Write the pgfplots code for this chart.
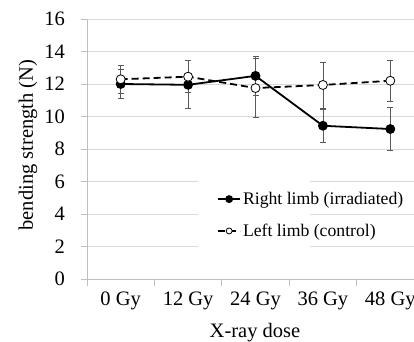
\documentclass[border=0pt]{standalone}
\usepackage{fontspec}
\setmainfont{Liberation Serif}
\usepackage{pgfplots}
\pgfplotsset{compat=1.18}
\definecolor{gridc}{HTML}{D9D9D9}
\definecolor{axc}{HTML}{BFBFBF}
\definecolor{errc}{HTML}{595959}
\begin{document}
\begin{tikzpicture}
\useasboundingbox (0,0) rectangle (414pt,341pt);
\clip (0,0) rectangle (414pt,341pt);
\begin{axis}[
  at={(87pt,62pt)}, anchor=south west,
  scale only axis, width=337pt, height=260pt,
  xmin=-0.5, xmax=4.5, ymin=0, ymax=16,
  xtick={-0.5,0.5,1.5,2.5,3.5,4.5},
  xticklabels={0 Gy,12 Gy,24 Gy,36 Gy,48 Gy,},
  x tick label as interval,
  ytick={0,2,...,16},
  axis x line*=bottom, axis y line*=left,
  axis line style={axc, line width=0.8pt},
  ymajorgrids, grid style={gridc, line width=0.8pt},
  tick align=outside, major tick length=6.5pt,
  tick style={axc, line width=0.8pt},
  tick label style={font=\rmfamily\fontsize{20.5}{24}\selectfont},
  yticklabel style={xshift=-12pt},
  xticklabel style={yshift=-3pt},
  every axis x label/.style={at={(axis description cs:0.4985,-0.208)}, anchor=center, font=\rmfamily\fontsize{20.5}{24}\selectfont},
  every axis y label/.style={at={(axis description cs:-0.175,0.515)}, rotate=90, anchor=center, font=\rmfamily\fontsize{20.5}{24}\selectfont},
  xlabel={X-ray dose}, ylabel={bending strength (N)},
  /pgf/number format/assume math mode=true,
  legend style={draw=none, fill=none, font=\rmfamily\fontsize{17.7}{20}\selectfont,
    at={(0.377,0.35)}, anchor=north west, cells={anchor=west}, row sep=14pt},
  legend image post style={mark size=3pt},
  legend image code/.code={\draw[mark repeat=2,mark phase=2,#1] plot coordinates {(0pt,0pt) (11pt,0pt) (22pt,0pt)};},
]
\fill[white] (axis cs:1.147,1.0) rectangle (axis cs:2.81,7.0);
\addplot[black, line width=1.8pt, mark=*, mark size=4pt, mark options={solid, fill=black},
  error bars/.cd, y dir=both, y explicit,
  error bar style={errc, line width=0.8pt, solid},
  error mark options={rotate=90, errc, mark size=3pt, line width=0.8pt}]
  coordinates {(0,12.0) +- (0,0.90) (1,11.95) +- (0,1.48) (2,12.5) +- (0,1.20) (3,9.43) +- (0,1.02) (4,9.23) +- (0,1.30)};
\addlegendentry{Right limb (irradiated)}
\addplot[black, line width=1.8pt, dash pattern=on 7pt off 4pt, mark=*, mark size=4.5pt, mark options={solid, fill=white, draw=black, line width=0.8pt},
  error bars/.cd, y dir=both, y explicit,
  error bar style={errc, line width=0.8pt, solid},
  error mark options={rotate=90, errc, mark size=3pt, line width=0.8pt}]
  coordinates {(0,12.29) +- (0,0.87) (1,12.45) +- (0,0.98) (2,11.75) +- (0,1.80) (3,11.94) +- (0,1.42) (4,12.2) +- (0,1.25)};
\addlegendentry{Left limb (control)}
\end{axis}
\end{tikzpicture}
\end{document}
